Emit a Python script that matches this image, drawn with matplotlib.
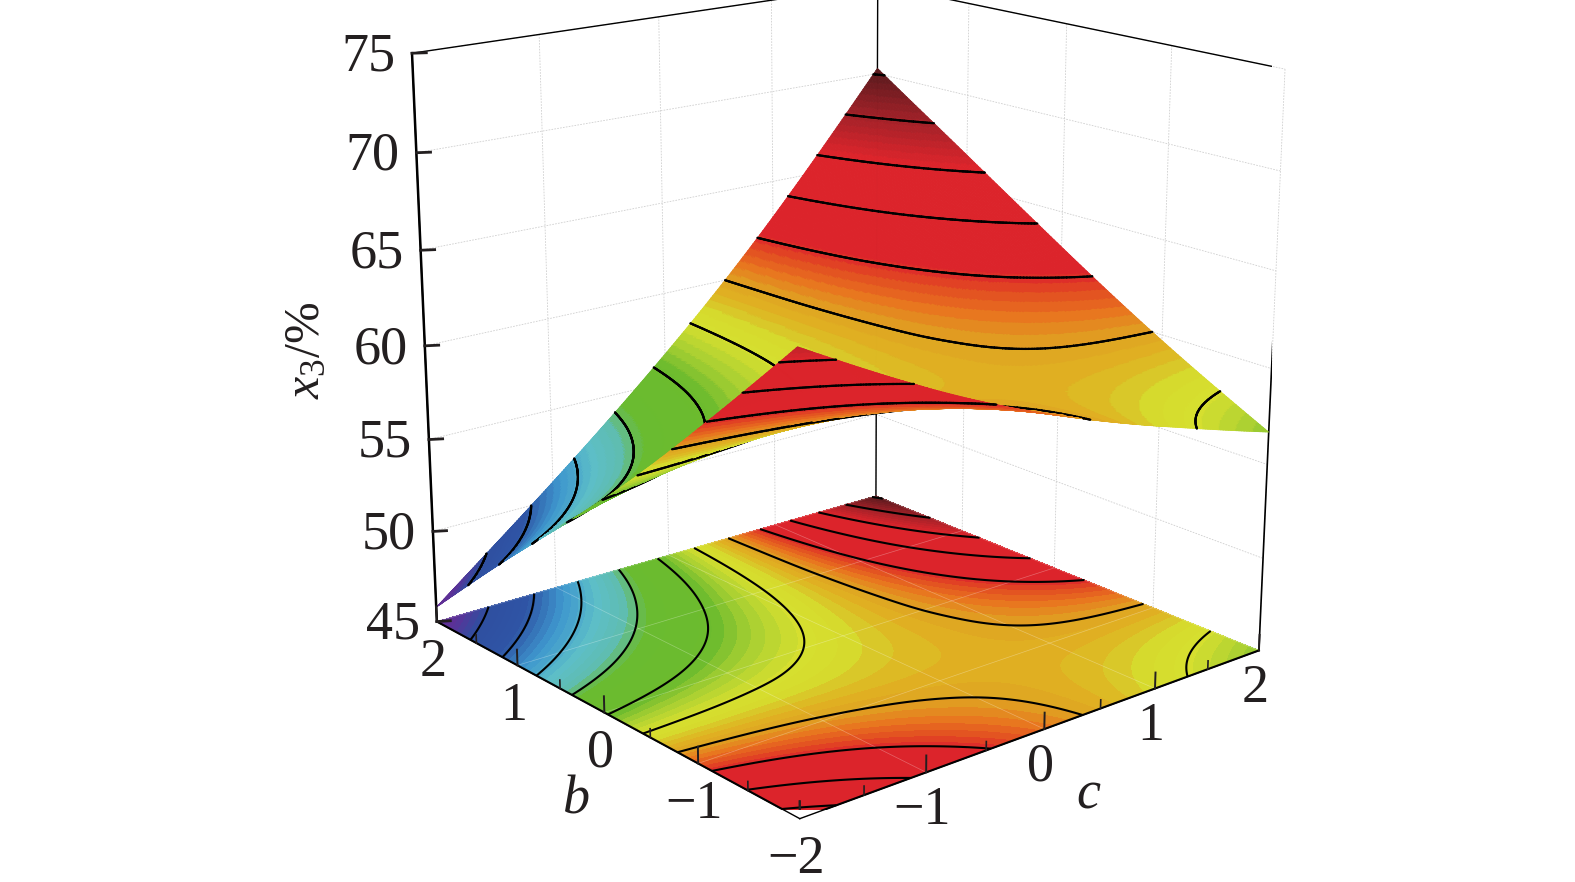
import numpy as np
import matplotlib
matplotlib.use("Agg")
import matplotlib.pyplot as plt
import matplotlib.tri as mtri
from matplotlib.colors import LinearSegmentedColormap, ListedColormap, BoundaryNorm
from matplotlib.figure import Figure
from mpl_toolkits.mplot3d.art3d import Poly3DCollection, Line3DCollection
from mpl_toolkits.mplot3d import proj3d

plt.rcParams['font.family'] = ['Liberation Serif', 'DejaVu Serif']
plt.rcParams['mathtext.fontset'] = 'custom'
plt.rcParams['mathtext.rm'] = 'Liberation Serif'
plt.rcParams['mathtext.it'] = 'Liberation Serif:italic'

# ---- data ----
c_values = [-2, -1, 0, 1, 2]
b_values = [2, 1, 0, -1, -2]
x3_b_p2 = [45.8, 51.0, 56.6, 63.0, 70.3]
x3_b_p1 = [50.9, 54.1, 57.6, 61.8, 66.7]
x3_b_00 = [55.8, 57.0, 58.6, 60.6, 63.1]
x3_b_m1 = [61.2, 60.2, 59.6, 59.6, 59.7]
x3_b_m2 = [67.0, 63.6, 60.8, 58.6, 56.7]
contour_levels = [48, 50, 52, 54, 56, 58, 60, 62, 64, 66, 68, 70]
z_ticks = [45, 50, 55, 60, 65, 70, 75]
xy_ticks = [-2, -1, 0, 1, 2]
half_ticks = [-1.5, -0.5, 0.5, 1.5]
color_z = [45.0, 46.8, 48.0, 49.8, 51.3, 52.6, 53.6, 54.3, 56.2, 57.0, 58.0, 58.6, 59.0, 59.4, 60.0, 60.8, 61.5, 62.1, 66.2, 68.0, 70.0, 71.0]
color_hex = ['#6A2A90', '#5A3298', '#2F4FA0', '#2F55A5', '#3E97CE', '#5DBEC8', '#5FBDB0', '#6ABB30', '#6CBB2E',
             '#A5CE32', '#D6DF2F', '#D6DC2E', '#D9C528', '#E0B322', '#DFA522', '#E8751F', '#E24A22', '#DC242B',
             '#DC242B', '#A32128', '#5F1A1E', '#401515']

INK = '#231F20'
ZMIN, ZMAX = 45, 75
ELEV, AZIM, ZASPECT = 17.2, -129.8, 1.0

fig = plt.figure(figsize=(15.75, 8.82), dpi=100)
ax = fig.add_axes([(831 - 441) / 1575, 72 / 882, 882 / 1575, 1.0], projection='3d', computed_zorder=False)
ax.set_proj_type('persp', focal_length=0.62)
ax.view_init(elev=ELEV, azim=AZIM)
ax.set_box_aspect((1, 1, ZASPECT), zoom=1.146)
ax.set_xlim(-2, 2, view_margin=0)
ax.set_ylim(-2, 2, view_margin=0)
ax.set_zlim(ZMIN, ZMAX, view_margin=0)
ax.patch.set_alpha(0)

# colours
smooth = LinearSegmentedColormap.from_list(
    'surf', [((v - 45) / 26, h) for v, h in zip(color_z, color_hex)], N=512)
band_edges = np.arange(45, 71.31, 0.3)
band_colors = smooth((0.5 * (band_edges[:-1] + band_edges[1:]) - 45) / 26)
band_cmap = ListedColormap(band_colors)
band_norm = BoundaryNorm(band_edges, band_cmap.N)

# refined surface
C, B = np.meshgrid(c_values, b_values)
Z = np.array([x3_b_p2, x3_b_p1, x3_b_00, x3_b_m1, x3_b_m2], dtype=float)
tri0 = mtri.Triangulation(C.ravel().astype(float), B.ravel().astype(float))
interp = mtri.CubicTriInterpolator(tri0, Z.ravel(), kind='min_E')
tri_ref, z_ref = mtri.UniformTriRefiner(tri0).refine_field(Z.ravel(), triinterpolator=interp, subdiv=6)
xr, yr = tri_ref.x, tri_ref.y

# panes, grid
for axis in (ax.xaxis, ax.yaxis, ax.zaxis):
    axis.pane.set_facecolor('white')
    axis.pane.set_edgecolor('white')
    axis.line.set_color('black')
    axis.line.set_linewidth(1.0)
    axis._axinfo['grid'].update(color='#cfcfcf', linestyle=(0, (2, 1.5)), linewidth=0.6)
    axis._axinfo['tick'].update(inward_factor=0, outward_factor=0)
ax.set_xticks(xy_ticks)
ax.set_yticks(xy_ticks)
ax.set_zticks(z_ticks)
ax.set_xticklabels([])
ax.set_yticklabels([])
ax.set_zticklabels([])

# box edges behind the surface
ax.plot([-2, 2], [2, 2], [ZMAX, ZMAX], color='black', lw=1.0, zorder=0.5)
ax.plot([2, 2], [2, -2], [ZMAX, ZMAX], color='black', lw=1.0, zorder=0.5)
ax.plot([2, 2], [2, 2], [ZMIN, ZMAX], color='black', lw=1.0, zorder=0.5)
ax.plot([2, 2], [-2, -2], [ZMIN, ZMAX], color='black', lw=1.2, zorder=0.5)

# base colour map
ax.tricontourf(tri_ref, z_ref, levels=band_edges, cmap=band_cmap, norm=band_norm,
               zdir='z', offset=ZMIN, zorder=1)

# faint grid on the base
base_grid = [[(t, -2, ZMIN), (t, 2, ZMIN)] for t in xy_ticks] + [[(-2, t, ZMIN), (2, t, ZMIN)] for t in xy_ticks]
ax.add_collection3d(Line3DCollection(base_grid, colors='white', linewidths=0.5, alpha=0.3, zorder=2), autolim=False)

# contour lines
seg_src = Figure().add_subplot().tricontour(tri_ref, z_ref, levels=contour_levels)
base_segs = []
surf_segs = []
for lev, polys in zip(contour_levels, seg_src.allsegs):
    for p in polys:
        if len(p) < 2:
            continue
        base_segs.append([(u, v, ZMIN) for u, v in p])
        for (u0, v0), (u1, v1) in zip(p[:-1], p[1:]):
            surf_segs.append(((u0, v0, lev), (u1, v1, lev)))
ax.add_collection3d(Line3DCollection(base_segs, colors='black', linewidths=1.5, zorder=3), autolim=False)

# painter's order, far to near
elev, azim = np.radians(ELEV), np.radians(AZIM)
view = np.array([np.cos(elev) * np.cos(azim), np.cos(elev) * np.sin(azim), np.sin(elev)])


def depth(x, y, z):
    return view[0] * np.asarray(x) / 4 + view[1] * np.asarray(y) / 4 + view[2] * (np.asarray(z) - ZMIN) / 30 * ZASPECT


tris = tri_ref.triangles
tx, ty, tz = xr[tris], yr[tris], z_ref[tris]
tri_depth = depth(tx.mean(1), ty.mean(1), tz.mean(1))
N_SLICES = 70
edges = np.linspace(tri_depth.min(), tri_depth.max() + 1e-6, N_SLICES + 1)
tri_bin = np.digitize(tri_depth, edges) - 1
tri_cols = band_cmap(band_norm(tz.mean(1)))
verts = np.stack([tx, ty, tz], axis=-1)

sarr = np.array(surf_segs)
seg_depth = depth(sarr[:, :, 0].mean(1), sarr[:, :, 1].mean(1), sarr[:, :, 2].mean(1))
seg_bin = np.clip(np.digitize(seg_depth, edges) - 1, 0, N_SLICES - 1)

for i in range(N_SLICES):
    m = tri_bin == i
    if m.any():
        pc = Poly3DCollection(verts[m], facecolors=tri_cols[m], edgecolors=tri_cols[m], linewidths=0.5,
                              zorder=10 + 2 * i)
        ax.add_collection3d(pc, autolim=False)
    k = seg_bin == i
    if k.any():
        lc = Line3DCollection(sarr[k], colors='black', linewidths=1.6, capstyle='round', zorder=10 + 2 * (i + 1) + 1)
        ax.add_collection3d(lc, autolim=False)

# front edges of the base and ticks
ax.plot([-2, -2], [2, -2], [ZMIN, ZMIN], color='black', lw=1.5, zorder=400)
ax.plot([-2, 2], [-2, -2], [ZMIN, ZMIN], color='black', lw=1.5, zorder=400)
ax.plot([-2, -2], [2, 2], [ZMIN, ZMAX], color='black', lw=1.8, zorder=400)
for t in xy_ticks:
    ax.plot([t, t], [-2, -2], [ZMIN, ZMIN + 0.85], color=INK, lw=1.4, zorder=401)
    ax.plot([-2, -2], [t, t], [ZMIN, ZMIN + 0.85], color=INK, lw=1.4, zorder=401)
for t in half_ticks:
    ax.plot([t, t], [-2, -2], [ZMIN, ZMIN + 0.45], color=INK, lw=1.2, zorder=401)
    ax.plot([-2, -2], [t, t], [ZMIN, ZMIN + 0.45], color=INK, lw=1.2, zorder=401)
for t in z_ticks:
    ax.plot([-2, -1.92], [2, 1.953], [t, t], color=INK, lw=2.0, zorder=401)

# tick labels
fig.canvas.draw()
M = ax.get_proj()


def label(x, y, z, text, dx, dy, ha='center'):
    px, py, _ = proj3d.proj_transform(x, y, z, M)
    ax.annotate(text, xy=(px, py), xycoords='data', xytext=(dx, dy), textcoords='offset pixels',
                ha=ha, va='center', fontsize=39, color=INK, annotation_clip=False, zorder=500)


def fmt(t):
    return f'\u2212{abs(t)}' if t < 0 else str(t)


for t in z_ticks:
    label(-2, 2, t, str(t), -17, -4, ha='right')
for t in xy_ticks:
    label(-2, t, ZMIN, fmt(t), -4, -41)
    if t != -2:
        label(t, -2, ZMIN, fmt(t), -4, -38)

fig.text(1088 / 1575, 1 - 795 / 882, 'c', fontsize=39, style='italic', color=INK, ha='center', va='center')
fig.text(577 / 1575, 1 - 800 / 882, 'b', fontsize=39, style='italic', color=INK, ha='center', va='center')
fig.text(307 / 1575, 1 - 350 / 882, r'$\mathit{x}_{3}$/%', fontsize=36, color=INK, rotation=90, ha='center', va='center')

fig.savefig('out.png', dpi=100, facecolor='white')
